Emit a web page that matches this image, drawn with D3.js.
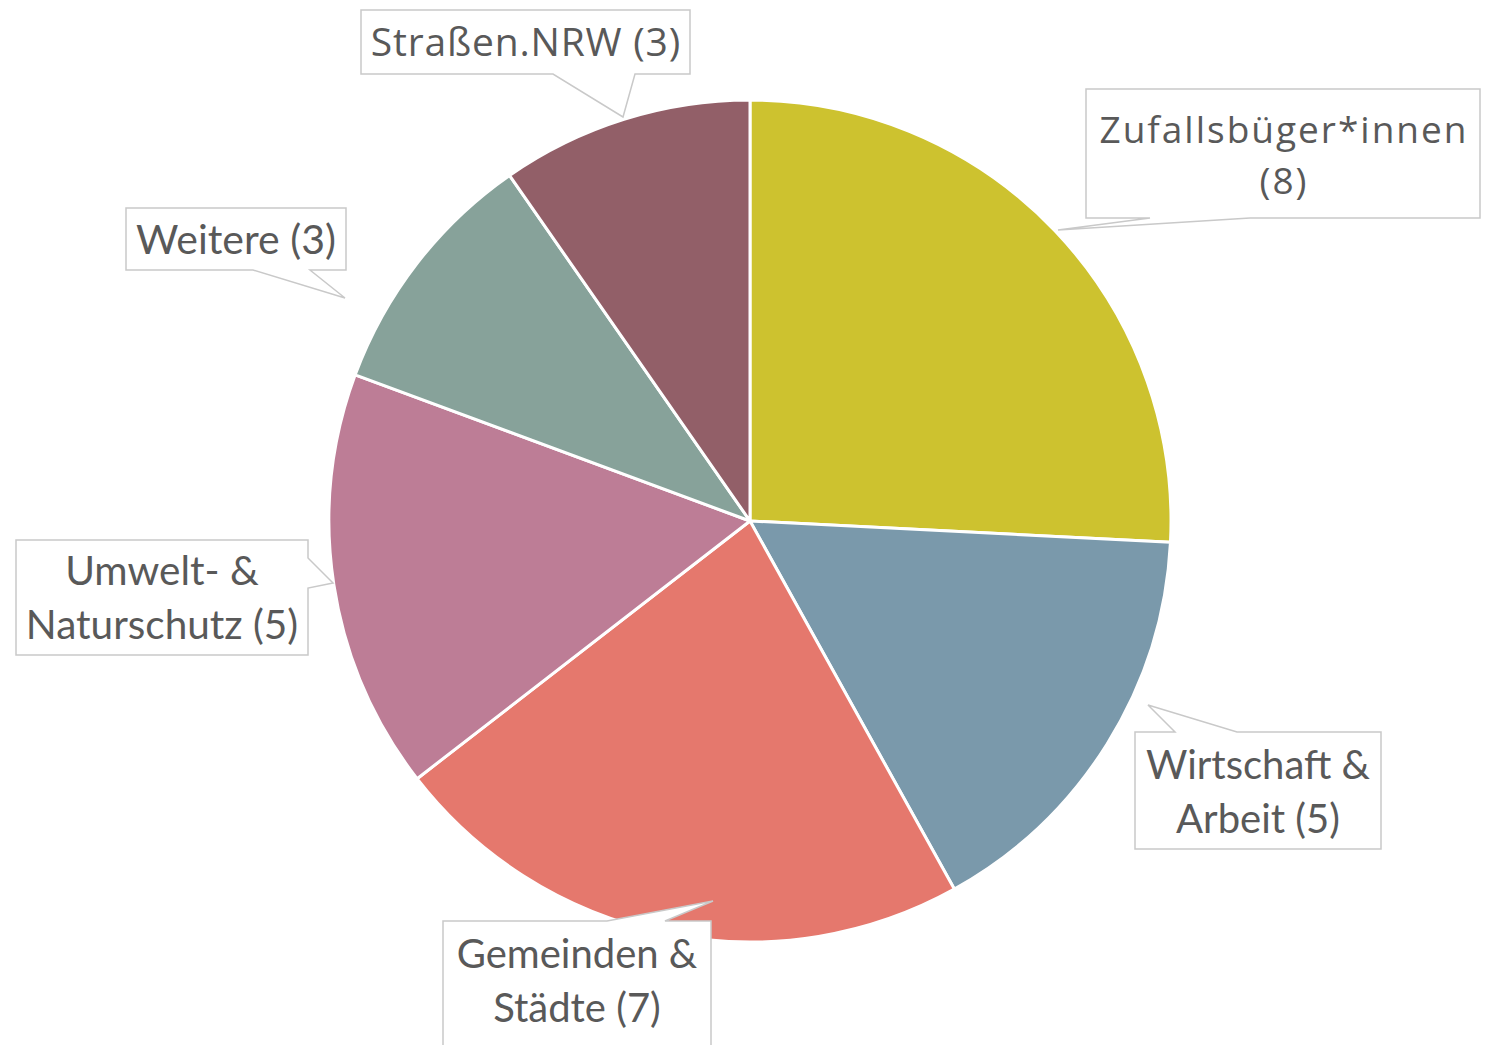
<!DOCTYPE html>
<html>
<head>
<meta charset="utf-8">
<script src="https://cdn.jsdelivr.net/npm/d3@7"></script>
<style>
  html, body { margin: 0; padding: 0; background: #fff; }
  svg { display: block; }
</style>
</head>
<body>
<svg id="pie-svg" width="1485" height="1045"></svg>
<script>
// data, clockwise from 12 o'clock
const categories = ["Zufallsbüger*innen", "Wirtschaft & Arbeit", "Gemeinden & Städte", "Umwelt- & Naturschutz", "Weitere", "Straßen.NRW"];
const values = [8, 5, 7, 5, 3, 3];
const labelLines = [
  ["Zufallsbüger*innen", "(8)"],
  ["Wirtschaft &", "Arbeit (5)"],
  ["Gemeinden &", "Städte (7)"],
  ["Umwelt- &", "Naturschutz (5)"],
  ["Weitere (3)"],
  ["Straßen.NRW (3)"]
];
const colors = ["#cdc22f", "#7a99ab", "#e5786d", "#bd7d96", "#87a29a", "#925f68"];

// callout boxes (layout only)
const callouts = [
  { x: 1086, y: 89, w: 394, h: 129, side: "bottom", a: 1150, b: 1250, tip: [1058, 230], base: 143, lh: 51, font: "'Open Sans'", size: 37, ls: 2 },
  { x: 1135, y: 732, w: 246, h: 117, side: "top", a: 1175, b: 1237, tip: [1148, 705], base: 779, lh: 54, font: "Lato", size: 40, ls: 0 },
  { x: 443, y: 921, w: 268, h: 140, side: "top", a: 607, b: 665, tip: [713, 901], base: 968, lh: 54, font: "Lato", size: 40, ls: 0 },
  { x: 16, y: 540, w: 292, h: 115, side: "right", a: 558, b: 588, tip: [333, 583], base: 585, lh: 54, font: "Lato", size: 40.5, ls: 0 },
  { x: 126, y: 208, w: 220, h: 62, side: "bottom", a: 253, b: 310, tip: [345, 298], base: 254, lh: 0, font: "Lato", size: 41, ls: 0 },
  { x: 361, y: 10, w: 329, h: 64, side: "bottom", a: 553, b: 635, tip: [623, 117], base: 56, lh: 0, font: "'Open Sans'", size: 39, ls: 0.8 }
];

const svg = d3.select("#pie-svg");
const cx = 750, cy = 521, radius = 421;

const pie = d3.pie().sort(null).value((d) => d);
const arc = d3.arc().innerRadius(0).outerRadius(radius);
const color = d3.scaleOrdinal().domain(categories).range(colors);

const g = svg.append("g").attr("transform", `translate(${cx},${cy})`);
g.selectAll("path")
  .data(pie(values))
  .join("path")
  .attr("d", arc)
  .attr("fill", (d, i) => color(categories[i]))
  .attr("stroke", "#fff")
  .attr("stroke-width", 3)
  .attr("stroke-linejoin", "round");

function calloutPath(c) {
  const { x, y, w, h, a, b } = c;
  const [tx, ty] = c.tip;
  const p = d3.path();
  if (c.side === "bottom") {
    p.moveTo(x, y); p.lineTo(x + w, y); p.lineTo(x + w, y + h);
    p.lineTo(b, y + h); p.lineTo(tx, ty); p.lineTo(a, y + h); p.lineTo(x, y + h);
  } else if (c.side === "top") {
    p.moveTo(x, y); p.lineTo(a, y); p.lineTo(tx, ty); p.lineTo(b, y);
    p.lineTo(x + w, y); p.lineTo(x + w, y + h); p.lineTo(x, y + h);
  } else {
    p.moveTo(x, y); p.lineTo(x + w, y); p.lineTo(x + w, a); p.lineTo(tx, ty);
    p.lineTo(x + w, b); p.lineTo(x + w, y + h); p.lineTo(x, y + h);
  }
  p.closePath();
  return p.toString();
}

const labels = svg.append("g")
  .selectAll("g")
  .data(callouts)
  .join("g");

labels.append("path")
  .attr("d", calloutPath)
  .attr("fill", "#fff")
  .attr("stroke", "#c9c9c9")
  .attr("stroke-width", 1.5);

labels.append("text")
  .attr("text-anchor", "middle")
  .attr("font-family", (c) => `${c.font}, sans-serif`)
  .attr("font-size", (c) => c.size)
  .attr("letter-spacing", (c) => c.ls)
  .attr("fill", "#595959")
  .selectAll("tspan")
  .data((c, i) => labelLines[i].map((t, k) => ({ t, k, c })))
  .join("tspan")
  .attr("x", (d) => d.c.x + d.c.w / 2 + d.c.ls / 2)
  .attr("y", (d) => d.c.base + d.k * d.c.lh)
  .text((d) => d.t);
</script>
</body>
</html>
